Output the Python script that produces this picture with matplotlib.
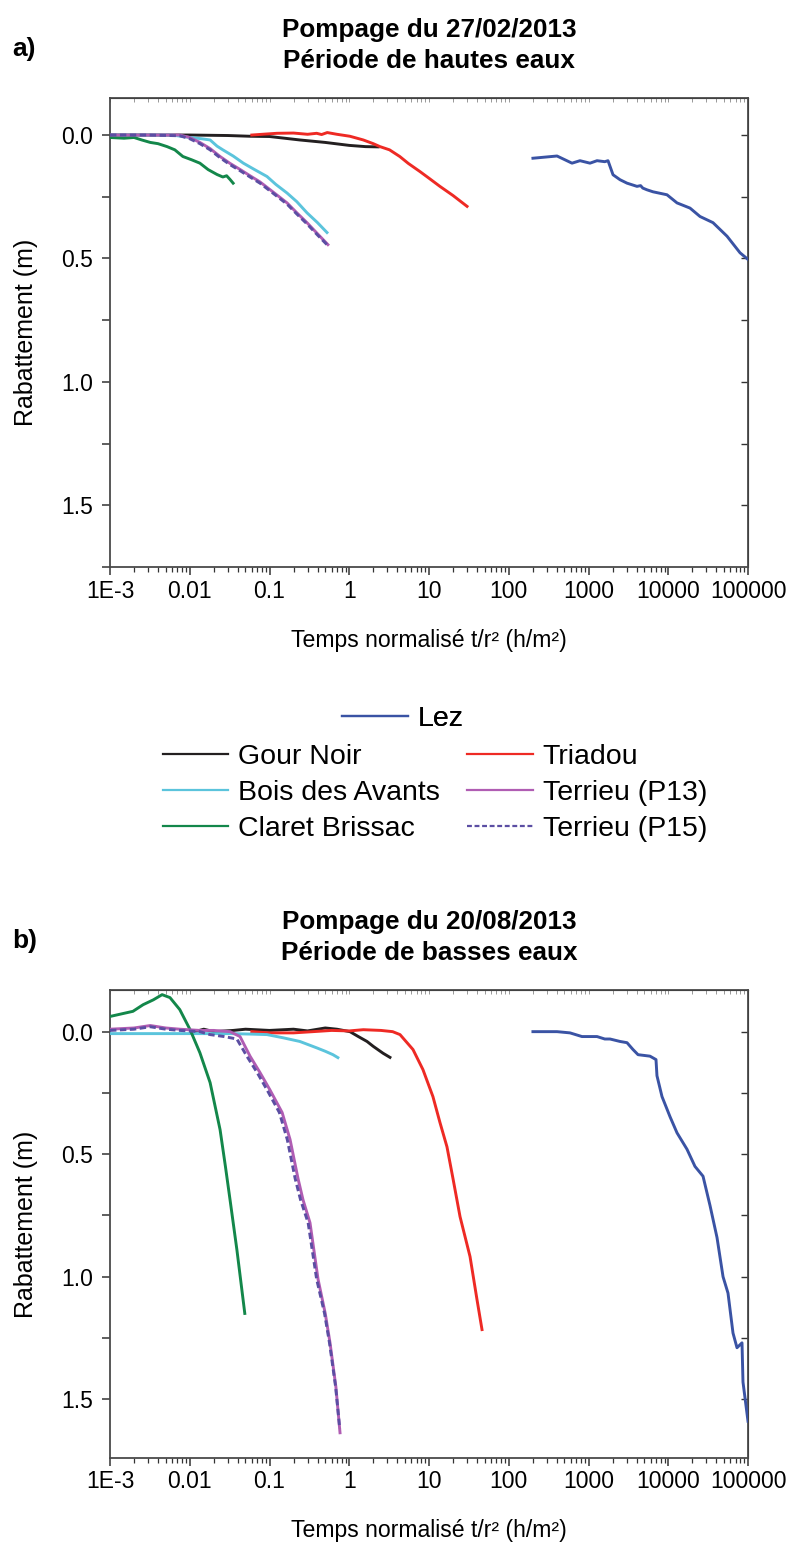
import matplotlib
matplotlib.use("Agg")
import matplotlib.pyplot as plt
from matplotlib.ticker import LogLocator, NullFormatter, MultipleLocator
from matplotlib.lines import Line2D

# ---------------- donnees ----------------
ticks_x = [1e-3, 1e-2, 1e-1, 1, 10, 100, 1000, 1e4, 1e5]
ticks_x_lab = ['1E-3', '0.01', '0.1', '1', '10', '100', '1000', '10000', '100000']
ticks_y = [0.0, 0.5, 1.0, 1.5]
ticks_y_lab = ['0.0', '0.5', '1.0', '1.5']

# a) Pompage du 27/02/2013 (hautes eaux)
gn_a_t = [0.001, 0.003, 0.01, 0.03, 0.057, 0.1, 0.24, 0.5, 1.0, 1.6, 2.3]
gn_a_s = [0.0, 0.0, 0.0, 0.002, 0.005, 0.006, 0.02, 0.03, 0.042, 0.047, 0.048]

tr_a_t = [0.06, 0.09, 0.124, 0.2, 0.3, 0.39, 0.45, 0.53, 0.7, 1.02, 1.5, 2.0, 2.43, 3.2, 4.3, 5.5, 7.7, 10, 13.7, 20, 30]
tr_a_s = [0.0, -0.004, -0.007, -0.008, -0.003, -0.007, -0.002, -0.01, -0.003, 0.005, 0.02, 0.035, 0.047, 0.06, 0.087, 0.115, 0.148, 0.175, 0.208, 0.245, 0.289]

ba_a_t = [0.001, 0.003, 0.006, 0.01, 0.014, 0.018, 0.022, 0.026, 0.035, 0.047, 0.065, 0.093, 0.12, 0.166, 0.22, 0.295, 0.4, 0.526]
ba_a_s = [0.0, 0.0, 0.0, 0.01, 0.015, 0.02, 0.045, 0.06, 0.085, 0.114, 0.14, 0.168, 0.2, 0.235, 0.27, 0.315, 0.355, 0.395]

cb_a_t = [0.001, 0.0015, 0.002, 0.0025, 0.0032, 0.004, 0.0052, 0.0065, 0.0082, 0.0105, 0.0134, 0.017, 0.022, 0.026, 0.029, 0.032, 0.035]
cb_a_s = [0.01, 0.013, 0.01, 0.02, 0.03, 0.035, 0.047, 0.06, 0.087, 0.1, 0.114, 0.14, 0.16, 0.17, 0.165, 0.18, 0.195]

p13_a_t = [0.001, 0.003, 0.0075, 0.01, 0.0134, 0.018, 0.024, 0.032, 0.043, 0.057, 0.076, 0.11, 0.166, 0.22, 0.295, 0.4, 0.54]
p13_a_s = [0.0, 0.0, 0.0, 0.01, 0.03, 0.055, 0.087, 0.115, 0.14, 0.165, 0.19, 0.23, 0.275, 0.315, 0.355, 0.4, 0.444]
p15_a_t = [0.001, 0.003, 0.0075, 0.01, 0.0134, 0.018, 0.024, 0.032, 0.043, 0.057, 0.076, 0.11, 0.166, 0.22, 0.295, 0.4, 0.54]
p15_a_s = [0.0, 0.0, 0.003, 0.015, 0.035, 0.06, 0.092, 0.12, 0.145, 0.17, 0.195, 0.235, 0.28, 0.32, 0.36, 0.405, 0.448]

lez_a_t = [201, 403, 621, 782, 1044, 1279, 1600, 1757, 2030, 2483, 3040, 4056, 4500, 4800, 5420, 6440, 9640, 12880, 18750, 25000, 36400, 54600, 79400, 100000]
lez_a_s = [0.094, 0.085, 0.114, 0.104, 0.114, 0.104, 0.108, 0.104, 0.161, 0.181, 0.195, 0.208, 0.205, 0.215, 0.222, 0.23, 0.242, 0.275, 0.296, 0.33, 0.355, 0.41, 0.477, 0.504]

# b) Pompage du 20/08/2013 (basses eaux)
gn_b_t = [0.0116, 0.015, 0.02, 0.035, 0.05, 0.1, 0.2, 0.3, 0.5, 0.7, 1.02, 1.3, 1.67, 2.0, 2.65, 3.24]
gn_b_s = [0.0, -0.01, 0.0, -0.005, -0.01, -0.005, -0.01, -0.003, -0.015, -0.01, 0.0, 0.02, 0.04, 0.06, 0.088, 0.105]

tr_b_t = [0.06, 0.1, 0.2, 0.35, 0.6, 1.0, 1.5, 2.5, 3.5, 4.33, 6.3, 8.4, 11.2, 13.7, 16.8, 20, 24.5, 32.7, 40, 46.2]
tr_b_s = [0.0, 0.005, 0.005, 0.0, -0.005, -0.003, -0.008, -0.005, 0.0, 0.012, 0.073, 0.155, 0.265, 0.37, 0.47, 0.6, 0.755, 0.918, 1.094, 1.216]

ba_b_t = [0.001, 0.003, 0.01, 0.032, 0.06, 0.093, 0.148, 0.24, 0.39, 0.5, 0.625, 0.72]
ba_b_s = [0.008, 0.008, 0.008, 0.008, 0.01, 0.012, 0.025, 0.04, 0.066, 0.08, 0.094, 0.106]

cb_b_t = [0.001, 0.00194, 0.0026, 0.0035, 0.0045, 0.00565, 0.0075, 0.0101, 0.0134, 0.018, 0.024, 0.028, 0.032, 0.039, 0.049]
cb_b_s = [-0.062, -0.083, -0.11, -0.13, -0.151, -0.139, -0.09, -0.008, 0.086, 0.208, 0.4, 0.55, 0.686, 0.89, 1.15]

p13_b_t = [0.001, 0.002, 0.0032, 0.005, 0.0075, 0.0134, 0.02, 0.032, 0.0427, 0.057, 0.076, 0.101, 0.144, 0.181, 0.228, 0.263, 0.322, 0.406, 0.5, 0.574, 0.68, 0.766]
p13_b_s = [-0.01, -0.015, -0.025, -0.015, -0.01, -0.005, -0.005, 0.0, 0.02, 0.1, 0.167, 0.237, 0.33, 0.44, 0.6, 0.686, 0.78, 1.01, 1.15, 1.27, 1.45, 1.637]
p15_b_t = [0.001, 0.002, 0.0032, 0.005, 0.0075, 0.0134, 0.018, 0.027, 0.039, 0.052, 0.07, 0.093, 0.133, 0.167, 0.21, 0.245, 0.305, 0.39, 0.49, 0.565, 0.675, 0.76]
p15_b_s = [-0.005, -0.01, -0.02, -0.01, -0.005, 0.0, 0.012, 0.02, 0.03, 0.1, 0.167, 0.237, 0.33, 0.44, 0.6, 0.686, 0.78, 1.01, 1.15, 1.27, 1.45, 1.62]

lez_b_t = [201, 403, 586, 828, 1279, 1600, 1862, 2483, 3040, 3615, 4180, 5900, 7020, 7220, 8350, 10520, 12880, 17180, 21640, 27290, 33420, 40860, 48630, 56130, 64850, 72780, 84100, 86530, 100000]
lez_b_s = [0.0, 0.0, 0.005, 0.02, 0.02, 0.03, 0.03, 0.04, 0.045, 0.073, 0.094, 0.1, 0.114, 0.18, 0.265, 0.347, 0.413, 0.48, 0.55, 0.59, 0.71, 0.84, 1.0, 1.067, 1.23, 1.29, 1.27, 1.43, 1.59]

# ---------------- styles ----------------
couleurs = {'Lez': '#3a53a4', 'Gour Noir': '#231f20', 'Triadou': '#ee2a24',
            'Bois des Avants': '#5bc4dc', 'Terrieu (P13)': '#b05db3',
            'Claret Brissac': '#13874a', 'Terrieu (P15)': '#5b4ea3'}
TIRETS = (0, (2.2, 1.2))

plt.rcParams['font.family'] = ['Liberation Sans', 'DejaVu Sans']

W, H = 790, 1542
fig = plt.figure(figsize=(W / 100, H / 100), dpi=100)


def panneau(rect, series, ylim):
    ax = fig.add_axes(rect)
    for nom, t, s in series:
        ls = TIRETS if nom == 'Terrieu (P15)' else '-'
        ax.plot(t, s, color=couleurs[nom], lw=2.1, ls=ls, zorder=4 if nom == 'Terrieu (P15)' else 3)
    ax.set_xscale('log')
    ax.set_xlim(1e-3, 1e5)
    ax.set_ylim(ylim[1], ylim[0])
    ax.set_xticks(ticks_x)
    ax.set_xticklabels(ticks_x_lab, fontsize=16.5)
    ax.xaxis.set_minor_locator(LogLocator(base=10, subs=range(2, 10), numticks=20))
    ax.xaxis.set_minor_formatter(NullFormatter())
    ax.set_yticks(ticks_y)
    ax.set_yticklabels(ticks_y_lab, fontsize=16.5)
    ax.yaxis.set_minor_locator(MultipleLocator(0.25))
    for sp in ax.spines.values():
        sp.set_color('#4a4a4a')
        sp.set_linewidth(1.3)
    ax.tick_params(axis='x', which='major', direction='out', length=6, width=1.1, color='#333333', pad=3)
    ax.tick_params(axis='x', which='minor', direction='out', length=3.5, width=0.9, color='#333333')
    ax.tick_params(axis='y', which='both', direction='out', length=6, width=1.1, color='#333333', pad=6)
    # graduations internes en haut et a droite
    top = ax.secondary_xaxis('top')
    top.set_xticks(ticks_x)
    top.set_xticklabels([])
    top.xaxis.set_minor_locator(LogLocator(base=10, subs=range(2, 10), numticks=20))
    top.xaxis.set_minor_formatter(NullFormatter())
    top.tick_params(which='both', direction='in', length=3, width=0.6, color='#888888')
    right = ax.secondary_yaxis('right')
    right.set_yticks([0.0, 0.25, 0.5, 0.75, 1.0, 1.25, 1.5])
    right.set_yticklabels([])
    right.tick_params(which='both', direction='in', length=5, width=1.0, color='#333333')
    ax.set_xlabel('Temps normalisé t/r² (h/m²)', fontsize=16.6)
    ax.xaxis.set_label_coords(0.5, -73 / (rect[3] * H))
    ax.xaxis.label.set_va('center')
    ax.set_ylabel('Rabattement (m)', fontsize=18)
    ax.yaxis.set_label_coords(-84 / (rect[2] * W), 0.5)
    ax.yaxis.label.set_va('center')
    return ax


serie_a = [('Gour Noir', gn_a_t, gn_a_s), ('Triadou', tr_a_t, tr_a_s), ('Bois des Avants', ba_a_t, ba_a_s),
           ('Claret Brissac', cb_a_t, cb_a_s), ('Terrieu (P13)', p13_a_t, p13_a_s),
           ('Terrieu (P15)', p15_a_t, p15_a_s), ('Lez', lez_a_t, lez_a_s)]
serie_b = [('Gour Noir', gn_b_t, gn_b_s), ('Triadou', tr_b_t, tr_b_s), ('Bois des Avants', ba_b_t, ba_b_s),
           ('Claret Brissac', cb_b_t, cb_b_s), ('Terrieu (P13)', p13_b_t, p13_b_s),
           ('Terrieu (P15)', p15_b_t, p15_b_s), ('Lez', lez_b_t, lez_b_s)]

x0, x1 = 110 / W, 748 / W
ax_a = panneau([x0, 1 - 567 / H, x1 - x0, (567 - 98) / H], serie_a, (-0.15, 1.75))
ax_b = panneau([x0, 1 - 1458 / H, x1 - x0, (1458 - 990) / H], serie_b, (-0.17, 1.74))

# titres (lignes de base)
xc = (110 + 748) / 2 / W
for dy, l1, l2, lettre in [(0, 'Pompage du 27/02/2013', 'Période de hautes eaux', 'a)'),
                           (892, 'Pompage du 20/08/2013', 'Période de basses eaux', 'b)')]:
    fig.text(xc, 1 - (37 + dy) / H, l1, ha='center', va='baseline', fontsize=18.8, fontweight='bold')
    fig.text(xc, 1 - (68 + dy) / H, l2, ha='center', va='baseline', fontsize=18.8, fontweight='bold')
    fig.text(12 / W, 1 - (56 + dy) / H, lettre, ha='left', va='baseline', fontsize=19, fontweight='bold')


# legende
def poignee(nom):
    ls = TIRETS if nom == 'Terrieu (P15)' else '-'
    return Line2D([], [], color=couleurs[nom], lw=1.6, ls=ls)


leg1 = fig.legend([poignee('Lez')], ['Lez'], loc='center', bbox_to_anchor=(403 / W, 1 - 719 / H),
                  frameon=False, fontsize=20.5, handlelength=2.3, handletextpad=0.35)
ordre = ['Gour Noir', 'Bois des Avants', 'Claret Brissac', 'Triadou', 'Terrieu (P13)', 'Terrieu (P15)']
fig.legend([poignee(n) for n in ordre], ordre, loc='center', bbox_to_anchor=(435 / W, 1 - 793 / H), ncol=2,
           frameon=False, fontsize=20.5, handlelength=2.3, handletextpad=0.35, columnspacing=0.95,
           labelspacing=0.36)
fig.add_artist(leg1)

fig.savefig('out.png', dpi=100)
